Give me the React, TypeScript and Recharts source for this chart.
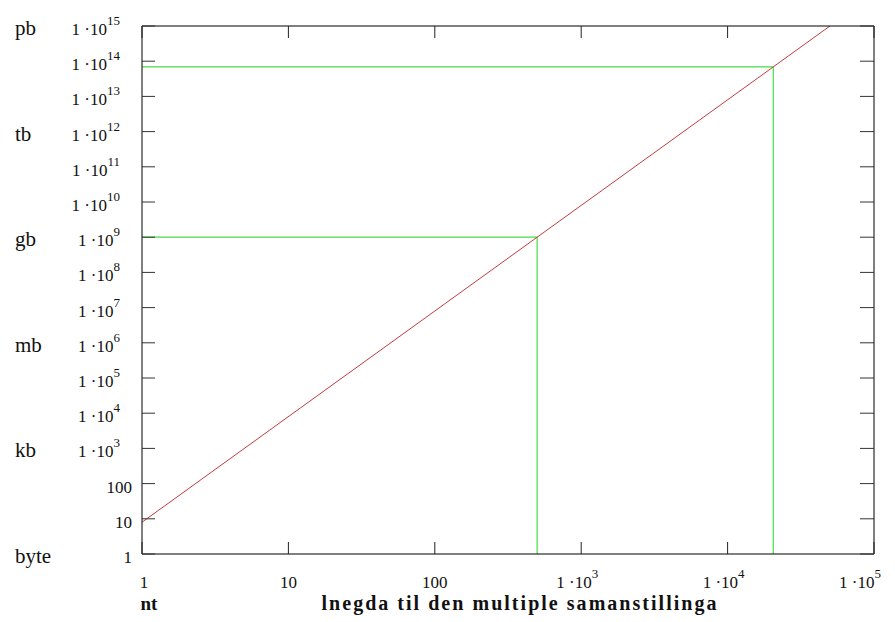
import { LineChart, Line, XAxis, YAxis } from 'recharts';

const FONT = '"Liberation Serif", "Times New Roman", serif';

// axis ticks
const xTicks = [1, 10, 100, 1e3, 1e4, 1e5];
const yTicks = [1, 10, 100, 1e3, 1e4, 1e5, 1e6, 1e7, 1e8, 1e9, 1e10, 1e11, 1e12, 1e13, 1e14, 1e15];

// unit names shown left of the y axis
const unitValues = [1, 1e3, 1e6, 1e9, 1e12, 1e15];
const unitNames = ['byte', 'kb', 'mb', 'gb', 'tb', 'pb'];

// memory curve (red)
const memX = [1, 5e4];
const memY = [8, 1e15];

// gigabyte marker (green)
const gbX = [1, 500, 500];
const gbY = [1e9, 1e9, 1];

// ~70 terabyte marker (green)
const tbX = [1, 2.05e4, 2.05e4];
const tbY = [6.9e13, 6.9e13, 1];

const zip = (xs: number[], ys: number[]) => xs.map((x, i) => ({ x, y: ys[i] }));

const memData = zip(memX, memY);
const gbData = zip(gbX, gbY);
const tbData = zip(tbX, tbY);

const TickLabel = ({ value, x, y, anchor }: { value: number; x: number; y: number; anchor: 'end' | 'middle' }) => {
  if (value < 1000) {
    return (
      <text x={x} y={y} textAnchor={anchor} fontSize={17} fontFamily={FONT} fill="#111">
        {value}
      </text>
    );
  }
  const exp = Math.round(Math.log10(value));
  return (
    <text x={x} y={y} textAnchor={anchor} fontSize={17} fontFamily={FONT} fill="#111">
      1 ·10
      <tspan dy={-10} fontSize={13}>
        {exp}
      </tspan>
    </text>
  );
};

const LeftTick = (props: any) => {
  const { x, y, payload } = props;
  const v = payload.value as number;
  const idx = unitValues.indexOf(v);
  return (
    <g>
      <line x1={x} x2={x + 13} y1={y} y2={y} stroke="#333" />
      <TickLabel value={v} x={v < 1000 ? x - 10 : x - 22} y={y + 9} anchor="end" />
      {idx >= 0 && (
        <text x={15} y={y + 9} fontSize={21} fontFamily={FONT} fill="#111">
          {unitNames[idx]}
        </text>
      )}
    </g>
  );
};

const RightTick = (props: any) => {
  const { x, y } = props;
  return <line x1={x - 14} x2={x} y1={y} y2={y} stroke="#333" />;
};

const BottomTick = (props: any) => {
  const { x, y, payload } = props;
  const v = payload.value as number;
  let lx = x;
  if (v === 1) lx = x + 2;
  else if (v >= 1e5) lx = x - 14;
  else if (v >= 1000) lx = x - 4;
  return (
    <g>
      <line x1={x} x2={x} y1={y - 12} y2={y} stroke="#222" />
      <TickLabel value={v} x={lx} y={y + 34} anchor="middle" />
      {v === 1 && (
        <text x={x + 7} y={y + 56} textAnchor="middle" fontSize={19} fontWeight="bold" fontFamily={FONT} fill="#111">
          nt
        </text>
      )}
    </g>
  );
};

const TopTick = (props: any) => {
  const { x, y } = props;
  return <line x1={x} x2={x} y1={y} y2={y + 12} stroke="#222" />;
};

const XTitle = (props: any) => {
  const vb = props.viewBox || { x: 142, width: 732 };
  return (
    <text
      x={vb.x + vb.width / 2 + 11}
      y={610}
      textAnchor="middle"
      fontSize={20}
      fontWeight="bold"
      fontFamily={FONT}
      fill="#111"
      textLength={395}
      lengthAdjust="spacing"
    >
      lnegda til den multiple samanstillinga
    </text>
  );
};

export default function App() {
  return (
    <div style={{ position: 'absolute', left: 0, top: 0, background: '#fff' }}>
      <LineChart width={895} height={622} margin={{ top: 25, right: 20, bottom: 67, left: 141 }}>
        <XAxis
          dataKey="x"
          type="number"
          scale="log"
          domain={[1, 1e5]}
          ticks={xTicks}
          allowDataOverflow
          height={1}
          tickSize={0}
          tickMargin={0}
          tickLine={false}
          axisLine={{ stroke: '#000' }}
          tick={<BottomTick />}
          interval={0}
          label={<XTitle />}
        />
        <XAxis
          xAxisId="top"
          orientation="top"
          dataKey="x"
          type="number"
          scale="log"
          domain={[1, 1e5]}
          ticks={xTicks}
          allowDataOverflow
          height={1}
          tickSize={0}
          tickMargin={0}
          tickLine={false}
          axisLine={{ stroke: '#000' }}
          tick={<TopTick />}
          interval={0}
        />
        <YAxis
          type="number"
          scale="log"
          domain={[1, 1e15]}
          ticks={yTicks}
          allowDataOverflow
          width={1}
          tickSize={0}
          tickMargin={0}
          tickLine={false}
          axisLine={{ stroke: '#000' }}
          tick={<LeftTick />}
          interval={0}
        />
        <YAxis
          yAxisId="right"
          orientation="right"
          type="number"
          scale="log"
          domain={[1, 1e15]}
          ticks={yTicks}
          allowDataOverflow
          width={1}
          tickSize={0}
          tickMargin={0}
          tickLine={false}
          axisLine={{ stroke: '#000' }}
          tick={<RightTick />}
          interval={0}
        />
        <Line data={gbData} dataKey="y" type="linear" stroke="#44dd44" strokeWidth={1.2} dot={false} isAnimationActive={false} />
        <Line data={tbData} dataKey="y" type="linear" stroke="#44dd44" strokeWidth={1.2} dot={false} isAnimationActive={false} />
        <Line data={memData} dataKey="y" type="linear" stroke="#c43c3c" strokeWidth={1} dot={false} isAnimationActive={false} />
      </LineChart>
    </div>
  );
}
